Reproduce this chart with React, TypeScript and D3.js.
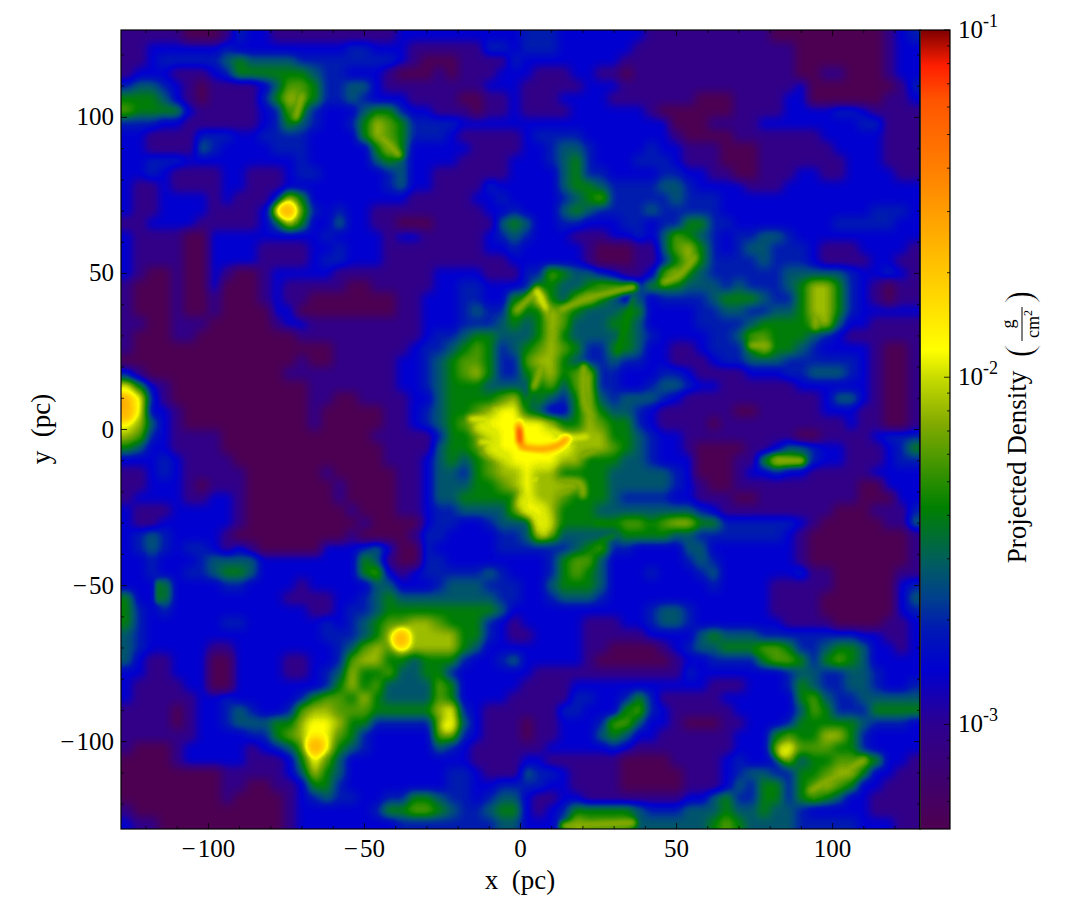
import React from "react";
import * as d3 from "d3";

// Density levels, one character per 4 pc cell (0 = lowest, 9 = highest).
const densityRows: string[] = [
"11111000132211111111112222222222"+"33322222221111111111000000000123",
"11222222322222222233222111111332"+"33322222211111111111110000000122",
"11233333454444333333332100011113"+"22222222111111111111110000000122",
"12221112355555543322210001011122"+"21112211011111111111110011000122",
"34432101111246653344211111111222"+"11111222111111111111112000000013",
"55542101111357653343222111100112"+"11122221111111000111122000000112",
"65555211111236532224553221110112"+"11112222221000000111122223321111",
"33322111111235432235765333322222"+"22222222222200011112222222233111",
"22111133322333322225765333211111"+"23333222222210000111111122222111",
"22111143222233322222575222221111"+"22344322223221110001111112222111",
"22333222222222322222454222211112"+"22345322233321110001111111222111",
"22321111221112332222234221111112"+"22245332222332211001112211222211",
"21121111221112222222234221111322"+"22245543333443222211122222222222",
"21122221211137522222222111112232"+"22234563333343332222222222222222",
"21122221111279632322111111111223"+"22245433334333332222222222223332",
"11222211111247522422110001111145"+"42233222332335533222222223333322",
"21111002222222223222212211111234"+"32221112232465432334432222222222",
"21111002222111122322211111111223"+"22222100011467532344333211122221",
"21111002222111123322211111111112"+"22222100011357533334333211112211",
"21001002100122222111111112222111"+"33654432112675433333344444322321",
"10001002000121111100111112233222"+"35544566535554443433345775321011",
"10001001000121100000001122233225"+"58546754242333345554335775321011",
"10001001000022000000001122234336"+"55765444552222334433445775322222",
"11001110000012211111111122233345"+"45764445542222333345555674221111",
"10001100000000111111111123345544"+"45754444543222233466555432111111",
"10000000000000000111111233456534"+"56765335542211233357554322221001",
"00000000000000100111112234566533"+"67754334332211123344433333321001",
"31000000000001111111112234567533"+"56756733222332111122233444321001",
"75210000000000011111112234555444"+"45646733223443221111112222221001",
"98310000000000011001111224555567"+"45435743444321111111111124421001",
"98221000000000010000011234556788"+"54225754432111111001111122211001",
"87421000000000010000011234566888"+"88755765532111101111111111211001",
"76321111000000000000111113556788"+"88877775543221111111110011112333",
"54221111000000000000011114556788"+"88887776543221000011244322111235",
"22232111100000000000011124545678"+"88877555443222000115765322111233",
"11232111110000001000001124435677"+"87755554444432000122322111112222",
"11222101110000000100001124445567"+"87777554444432100111111111100222",
"12222112210000000100001124455555"+"87765554333322111001111111100022",
"21112222210000000010001123344446"+"88755544444444321111111110001113",
"21122222210000000001000023322344"+"48755555665677553333332100000114",
"23432222100000000010000133222233"+"47644444555544333333321000000001",
"23432332121000002223420032222233"+"33334563322224422222221000000001",
"22322234444222222225410033222222"+"22356642222223432222221000000001",
"22322334554222222225621233333432"+"22356542223222342222223110000011",
"22252222332222122222442223444333"+"22455542222222232222111110000023",
"52252222222221111223454444444433"+"22344432222222222222111100000024",
"53232222222222211233455555555542"+"22222222223443222222111100000023",
"53222222332222223234566776555321"+"22222111223443222222211110000112",
"43222222222222223334579777755321"+"12222111112222454443333333322112",
"43222221122222222346768777754222"+"22222110000123445556653345542212",
"42112220022221122367755455532234"+"22222100000012233335665356542222",
"22112220022221123475564455322222"+"21111111111113222222234433443222",
"21111220022222223575644446522222"+"11112222222222211122235433443223",
"21111122322222356657544446522221"+"11113322353111112222225643344444",
"11110122343223677666555557832111"+"11133222563211111222224653335555",
"11110122344455788755333336842111"+"01122236642210001122235555543332",
"11111122223356788653222226632111"+"01122245422111111222565577532222",
"10001222221234698543222224321111"+"11222223211111111222686665532222",
"00001222221112586422222222221111"+"22111111000011112322364556665221",
"00000000111112475422222222332111"+"43321111000001112344335567752211",
"00000000110011255322222222332233"+"33221111000001112435535676522111",
"00000000100001234332233554332344"+"21122111111112245335535654221111",
"10000000000001222222355665433455"+"21235555543334445445443222221111",
"21100000000001222222223333333344"+"22247666644444456544443333322211",
];

// Ridges and peaks, in parsecs, grouped by the level they reach.
const darkCore: [number, number][][] = [[[-0.2, -0.2], [-0.2, -3.6]]];
const orangeRidges: [number, number][][] = [
  [[-0.6, 1.5], [-0.4, -3], [0.8, -5.6]],
  [[0.2, -5.6], [6.4, -6.3], [11.7, -5.2], [14.8, -3]],
];
const coreHaze: [number, number][][] = [
  [[-13, 1], [0, -2], [14, -5]],
  [[-9, -6], [0, -9], [8, -10]],
  [[1, -23], [6, -27], [7.5, -31]],
];
const yellowRidges: [number, number][][] = [
  [[-16, 3.4], [-8, 2.6], [-2, -0.3]],
  [[-12.8, -4], [-7, -4.2], [-2, -3.5]],
  [[-2, 0.9], [5, 0.4], [10.7, -0.9], [14.9, -3]],
  [[15, -3], [21.4, -2.3]],
  [[0, -8.8], [5.3, -9.2]],
  [[-6.2, -8.3], [-1.2, -4.6]],
  [[2.1, -17.4], [5.3, -15.8]],
  [[0, -23.8], [6.4, -27], [7.5, -33]],
  [[5.3, 44.6], [8, 39]],
  [[-8, 6], [-2, 2]],
];
const limeRidges: [number, number][][] = [
  [[8, 39], [10.7, 30.7], [8.5, 24.3], [4.3, 13.6]],
  [[-1.1, 38.2], [4.3, 43.5]],
  [[12.8, 38.2], [21.4, 41.9], [36.3, 45.6]],
  [[45.9, 47.2], [51.3, 49.9], [55.6, 55.2]],
  [[20.3, 20], [20.6, 8], [23, 4]],
  [[2.1, -18.5], [3.2, -23.8]],
  [[7.5, -17.4], [19.2, -17.4], [20, -21]],
  [[9, -22], [16, -19]],
  [[-12, -7], [-4, -12]],
  [[95, 40], [94.5, 33]],
  [[74, 27], [79, 27]],
  [[82, -10], [90, -10]],
  [[93, -115.7], [110, -106]],
  [[14, -127], [36, -126]],
  [[-45, 94], [-39, 88]],
  [[-72, 100], [-70, 107]],
  [[15, -10], [25, -6]],
];
const greenRidges: [number, number][][] = [
  [[4.3, 13.6], [1.1, 6.1]],
  [[36.3, 42.4], [33.1, 31.7], [31, 24.3]],
  [[-19.2, 14.7], [-15, 20]],
  [[24, -30], [44, -30.5], [56, -31]],
  [[20, -45], [26, -36], [30, -34]],
  [[36, -89], [29, -95]],
  [[-116, -49], [-116, -55]],
  [[75, -71], [85.5, -75]],
];
const orangeSpots: [number, number][] = [[-75.3, 70.2], [-127, 5], [-65.7, -101], [-38.5, -67.6]];
const yellowSpots: [number, number][] = [[-23.4, -95], [84.3, -103.5], [-66, -96], [-127, 12]];

// Colour map stops, bottom to top.
const cmapPositions = [0, 0.131, 0.2, 0.25, 0.29, 0.335, 0.403, 0.508, 0.566, 0.6, 0.668, 0.825, 0.912, 0.956, 1];
const cmapColors = ["#4e0050", "#2d0090", "#0000d0", "#0018b4", "#00408c", "#005e5e", "#008000", "#82aa00", "#c8dc00", "#ffff00", "#ffd700", "#ff8000", "#ff5500", "#ff1e00", "#800000"];
const levelPositions = [0.005, 0.115, 0.2, 0.255, 0.32, 0.395, 0.465, 0.53, 0.6, 0.74];

const xTicks = [-100, -50, 0, 50, 100];
const yTicks = [-100, -50, 0, 50, 100];
const minorTicks = [-120, -110, -90, -80, -70, -60, -40, -30, -20, -10, 10, 20, 30, 40, 60, 70, 80, 90, 110, 120];
const barTicks = [0.001, 0.01, 0.1];
const barMinorTicks = [6e-4, 7e-4, 8e-4, 9e-4, 2e-3, 3e-3, 4e-3, 5e-3, 6e-3, 7e-3, 8e-3, 9e-3, 2e-2, 3e-2, 4e-2, 5e-2, 6e-2, 7e-2, 8e-2, 9e-2];
const barExponents = ["-3", "-2", "-1"];

const L = 121, R = 920, T = 30, B = 829, BAR_R = 950;
const FONT = "'Liberation Serif', serif";

const fmt = (v: number) => (v < 0 ? "\u2212\u200a" + Math.abs(v) : String(v));

export default function App() {
  const x = d3.scaleLinear().domain([-128, 128]).range([L, R]);
  const y = d3.scaleLinear().domain([-128, 128]).range([B, T]);
  const barY = d3.scaleLog().domain([5e-4, 0.1]).range([B, T]);
  const cmap = d3.scaleLinear<string>().domain(cmapPositions).range(cmapColors).interpolate(d3.interpolateRgb).clamp(true);
  const tableSize = 256;
  const table = d3.range(tableSize).map((i) => d3.rgb(cmap(i / (tableSize - 1))));
  const tv = (k: "r" | "g" | "b") => table.map((c) => (c[k] / 255).toFixed(4)).join(" ");
  const gray = (t: number) => {
    const g = Math.round(t * 255);
    return `rgb(${g},${g},${g})`;
  };
  const line = d3.line<[number, number]>().x((d) => x(d[0])).y((d) => y(d[1])).curve(d3.curveCatmullRom);
  const cell = 4;
  const bleed = 30;
  const nRows = densityRows.length;

  const ridge = (list: [number, number][][], t: number, w: number, key: string) =>
    list.map((pts, i) => (
      <path key={key + i} d={line(pts) || ""} fill="none" stroke={gray(t)} strokeWidth={w} strokeLinecap="round" strokeLinejoin="round" />
    ));
  const spot = (list: [number, number][], t: number, r: number, key: string) =>
    list.map((p, i) => <circle key={key + i} cx={x(p[0])} cy={y(p[1])} r={r} fill={gray(t)} />);

  return (
    <svg width={1085} height={904} style={{ display: "block", position: "absolute", left: 0, top: 0 }} fontFamily={FONT}>
      <defs>
        <clipPath id="plot"><rect x={L} y={T} width={R - L} height={B - T} /></clipPath>
        <filter id="cellBlur" filterUnits="userSpaceOnUse" x={60} y={-30} width={920} height={920} colorInterpolationFilters="sRGB">
          <feGaussianBlur stdDeviation={5} />
        </filter>
        <filter id="ridgeBlur" filterUnits="userSpaceOnUse" x={60} y={-30} width={920} height={920} colorInterpolationFilters="sRGB">
          <feGaussianBlur stdDeviation={2.6} />
        </filter>
        <filter id="hazeBlur" filterUnits="userSpaceOnUse" x={60} y={-30} width={920} height={920} colorInterpolationFilters="sRGB">
          <feGaussianBlur stdDeviation={4} />
        </filter>
        <filter id="toColor" filterUnits="userSpaceOnUse" x={60} y={-30} width={920} height={920} colorInterpolationFilters="sRGB">
          <feComponentTransfer>
            <feFuncR type="table" tableValues={tv("r")} />
            <feFuncG type="table" tableValues={tv("g")} />
            <feFuncB type="table" tableValues={tv("b")} />
          </feComponentTransfer>
        </filter>
      </defs>

      <g clipPath="url(#plot)">
        <g filter="url(#toColor)">
          <g filter="url(#cellBlur)">
            {densityRows.map((row, r) =>
              row.split("").map((ch, c) => {
                const x0 = x(-128 + c * cell) - (c === 0 ? bleed : 0);
                const x1 = x(-128 + (c + 1) * cell) + (c === row.length - 1 ? bleed : 0);
                const y0 = y(128 - r * cell) - (r === 0 ? bleed : 0);
                const y1 = y(128 - (r + 1) * cell) + (r === nRows - 1 ? bleed : 0);
                return (
                  <rect key={r + "-" + c} x={x0} y={y0} width={x1 - x0 + 0.6} height={y1 - y0 + 0.6} fill={gray(levelPositions[+ch])} shapeRendering="crispEdges" />
                );
              })
            )}
          </g>
          <g filter="url(#hazeBlur)" style={{ mixBlendMode: "lighten" }}>
            {ridge(coreHaze, 0.58, 17, "h")}
            {spot(yellowSpots, 0.6, 7.5, "ys")}
            {spot(orangeSpots, 0.72, 8, "os")}
          </g>
          <g filter="url(#ridgeBlur)" style={{ mixBlendMode: "lighten" }}>
            {ridge(greenRidges, 0.42, 4, "g")}
            {ridge(limeRidges, 0.46, 9, "lh")}
            {ridge(yellowRidges, 0.5, 9, "yh")}
            {ridge(limeRidges, 0.53, 5, "l")}
            {ridge(yellowRidges, 0.6, 5, "y")}
            {ridge(orangeRidges, 0.68, 8, "oh")}
            {ridge(orangeRidges, 0.8, 4.5, "o")}
            {ridge(darkCore, 1, 5, "d")}
          </g>
        </g>
      </g>

      {/* colour bar */}
      {d3.range(B - T).map((i) => (
        <rect key={i} x={R + 1} y={T + i} width={BAR_R - R - 1} height={1.2} fill={cmap(1 - i / (B - T))} shapeRendering="crispEdges" />
      ))}

      {/* axes frames */}
      <rect x={L} y={T} width={R - L} height={B - T} fill="none" stroke="#000" strokeWidth={1.2} />
      <rect x={R} y={T} width={BAR_R - R} height={B - T} fill="none" stroke="#000" strokeWidth={1.2} />

      {/* main ticks */}
      <g stroke="#000" strokeWidth={0.8}>
        {xTicks.map((v) => (
          <g key={"xt" + v}>
            <line x1={x(v)} x2={x(v)} y1={B} y2={B - 6} />
            <line x1={x(v)} x2={x(v)} y1={T} y2={T + 6} />
          </g>
        ))}
        {yTicks.map((v) => (
          <g key={"yt" + v}>
            <line x1={L} x2={L + 6} y1={y(v)} y2={y(v)} />
            <line x1={R} x2={R - 6} y1={y(v)} y2={y(v)} />
          </g>
        ))}
        {minorTicks.map((v) => (
          <g key={"mt" + v}>
            <line x1={x(v)} x2={x(v)} y1={B} y2={B - 3} />
            <line x1={x(v)} x2={x(v)} y1={T} y2={T + 3} />
            <line x1={L} x2={L + 3} y1={y(v)} y2={y(v)} />
            <line x1={R} x2={R - 3} y1={y(v)} y2={y(v)} />
          </g>
        ))}
        {barTicks.map((v) => (
          <line key={"bt" + v} x1={BAR_R} x2={BAR_R - 6} y1={barY(v)} y2={barY(v)} />
        ))}
        {barMinorTicks.map((v) => (
          <line key={"bm" + v} x1={BAR_R} x2={BAR_R - 3} y1={barY(v)} y2={barY(v)} />
        ))}
      </g>

      {/* tick labels */}
      <g fontSize={25} fill="#000">
        {xTicks.map((v) => (
          <text key={"xl" + v} x={x(v)} y={857} textAnchor="middle">{fmt(v)}</text>
        ))}
        {yTicks.map((v) => (
          <text key={"yl" + v} x={114} y={y(v) + 8} textAnchor="end">{fmt(v)}</text>
        ))}
        {barTicks.map((v, i) => (
          <text key={"bl" + v} x={958} y={barY(v) + 8}>
            10
            <tspan fontSize={18} dy={-11}>{barExponents[i]}</tspan>
          </text>
        ))}
        <text x={520} y={889} textAnchor="middle" fontSize={27} style={{ whiteSpace: "pre" }}>x  (pc)</text>
        <text transform="translate(50,429) rotate(-90)" textAnchor="middle" fontSize={27} style={{ whiteSpace: "pre" }}>y  (pc)</text>
        <text transform="translate(1026,467) rotate(-90)" textAnchor="middle" fontSize={27}>Projected Density</text>
      </g>

      {/* units in parentheses */}
      <g transform="translate(1022,324) rotate(-90)" fill="#000">
        <text x={-27} y={10} fontSize={40} textAnchor="middle" stroke="#fff" strokeWidth={0.9}>(</text>
        <text x={27} y={10} fontSize={40} textAnchor="middle" stroke="#fff" strokeWidth={0.9}>)</text>
        <text x={0} y={-8} fontSize={18} textAnchor="middle">g</text>
        <line x1={-17} x2={17} y1={0} y2={0} stroke="#000" strokeWidth={1} />
        <text x={0} y={17} fontSize={18} textAnchor="middle">cm<tspan fontSize={12} dy={-7}>2</tspan></text>
      </g>
    </svg>
  );
}
